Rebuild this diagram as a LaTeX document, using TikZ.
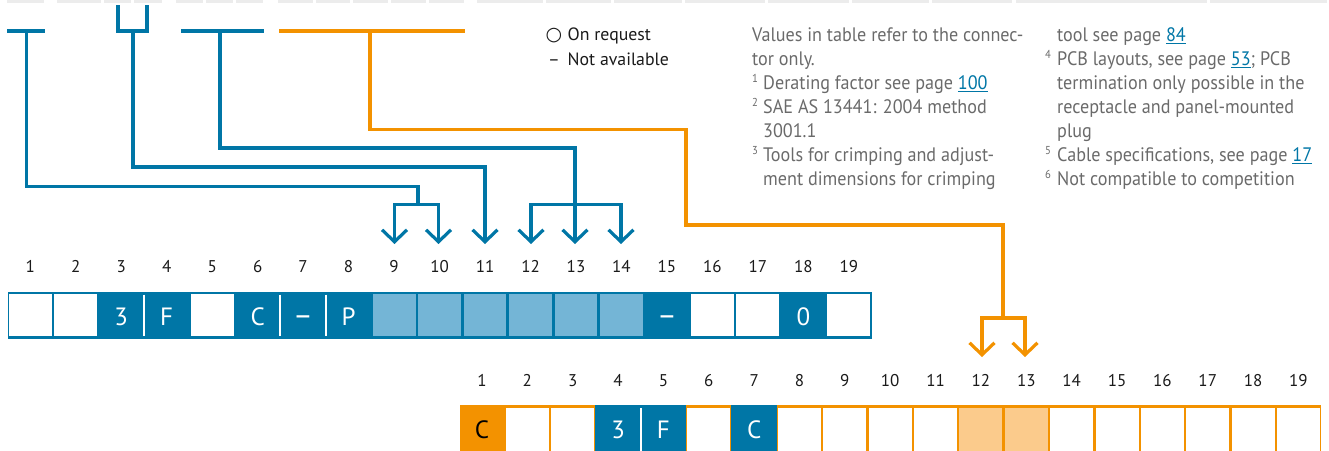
\documentclass[tikz,border=0pt]{standalone}
\usepackage{fontspec}
\setmainfont{PT Sans}
\newfontfamily\fnfont{PT Sans}[FakeStretch=0.93]
\newfontfamily\symfont{DejaVu Sans}
\usetikzlibrary{arrows.meta}
\definecolor{hblue}{HTML}{0076A6}
\definecolor{lblue}{HTML}{74B5D6}
\definecolor{horange}{HTML}{F39200}
\definecolor{lorange}{HTML}{FBCB8C}
\definecolor{barg}{HTML}{ECECEC}
\definecolor{fngray}{HTML}{6A6A6A}
\definecolor{txtblack}{HTML}{1A1A1A}
\newcommand\lnk[1]{\textcolor{hblue}{\underline{#1}}}
\newcommand\bigdash{{\fontsize{30}{30}\selectfont –}}
\begin{document}
\begin{tikzpicture}[x=1pt,y=-1pt,
  conn/.style={line width=3.2pt, line join=miter},
  bconn/.style={conn, draw=hblue},
  oconn/.style={conn, draw=horange},
  tipend/.style={-{Straight Barb[length=12pt,width=25pt]}},
  tipboth/.style={{Straight Barb[length=12pt,width=25pt]}-{Straight Barb[length=12pt,width=25pt]}},
  fn/.style={anchor=base west, inner sep=0, text=fngray, font=\fnfont\fontsize{19.5}{24}\selectfont},
  fnsup/.style={anchor=base west, inner sep=0, text=fngray, font=\fnfont\fontsize{11.5}{12}\selectfont},
  leg/.style={anchor=base west, inner sep=0, text=txtblack, font=\fontsize{17.8}{20}\selectfont},
  numlbl/.style={anchor=base, inner sep=0, text=txtblack, font=\fontsize{17}{20}\selectfont},
  cellbase/.style={inner sep=0, font=\fontsize{25}{25}\selectfont, text height=17.5pt, text depth=0pt},
  wcell/.style={cellbase, fill=white, minimum width=42.9pt, minimum height=42.1pt},
  lcell/.style={cellbase, fill=lblue, minimum width=42.9pt, minimum height=42.1pt},
  dcell/.style={cellbase, text=white},
  wcellb/.style={cellbase, fill=white, minimum width=43pt, minimum height=48pt},
  locell/.style={cellbase, fill=lorange, minimum width=43pt, minimum height=48pt},
  bcellb/.style={cellbase, fill=hblue, text=white, minimum width=45.9pt, minimum height=50pt},
  ocellb/.style={cellbase, text=black},
  divider/.style={draw=white, line width=2pt},
  strip/.style={inner sep=0, anchor=north west}
]
\useasboundingbox (0,0) rectangle (1329,450);
\clip (0,0) rectangle (1329,450);

% top grey bars
\foreach \a/\b [count=\k] in {7/44,57/101,104/131,134/162,176/203,206/233,236/263,278/313,316/350,353/388,391/426,429/464,477/543,546/611,614/682,685/765,768/849,852/929,932/1012,1016/1207,1210/1327}
  \fill[barg] (\a,0) rectangle (\b,3);

% legend
\node[anchor=base west, inner sep=0, text=txtblack, font=\symfont\fontsize{19}{20}\selectfont] (sym1) at (545.5,40.5) {○};
\node[leg] (leg1) at (567.5,40) {On request};
\node[leg] (sym2) at (548,65) {–};
\node[leg] (leg2) at (567.5,65) {Not available};

% footnotes block 1
\node[fn] (f1) at (752,41.7) {Values in table refer to the connec-};
\node[fn] (f2) at (752,65.7) {tor only.};
\node[fnsup] (s1) at (752,82.5) {1};
\node[fn] (f3) at (763,89.7) {Derating factor see page \lnk{100}};
\node[fnsup] (s2) at (752,106.5) {2};
\node[fn] (f4) at (763,113.7) {SAE AS 13441: 2004 method};
\node[fn] (f5) at (763,137.7) {3001.1};
\node[fnsup] (s3) at (752,154.5) {3};
\node[fn] (f6) at (763,161.7) {Tools for crimping and adjust-};
\node[fn] (f7) at (763,185.7) {ment dimensions for crimping};
% footnotes block 2
\node[fn] (g1) at (1057,41.7) {tool see page \lnk{84}};
\node[fnsup] (s4) at (1045,58.5) {4};
\node[fn] (g2) at (1057,65.7) {PCB layouts, see page \lnk{53}; PCB};
\node[fn] (g3) at (1057,89.7) {termination only possible in the};
\node[fn] (g4) at (1057,113.7) {receptacle and panel-mounted};
\node[fn] (g5) at (1057,137.7) {plug};
\node[fnsup] (s5) at (1045,154.5) {5};
\node[fn] (g6) at (1057,161.7) {Cable specifications, see page \lnk{17}};
\node[fnsup] (s6) at (1045,178.5) {6};
\node[fn] (g7) at (1057,185.7) {Not compatible to competition};

% row 1 numbers and cells
\foreach \i in {1,...,19}
  \node[numlbl] (n\i) at ({7.5+45.48*(\i-0.5)},272) {\i};
\node[strip, fill=hblue, minimum width=864.2pt, minimum height=47.5pt] (strip1) at (7.5,291.5) {};
\foreach \i in {1,2,5,16,17,19}
  \node[wcell] (r1c\i) at ({7.5+45.48*(\i-0.5)},315.25) {};
\foreach \i in {9,...,14}
  \node[lcell] (r1c\i) at ({7.5+45.48*(\i-0.5)},315.25) {};
\foreach \i/\t in {3/3,4/F,6/C,7/\bigdash,8/P,15/\bigdash,18/0}
  \node[dcell] (r1c\i) at ({7.5+45.48*(\i-0.5)},316.5) {\t};
\foreach \i in {3,6,7}
  \draw[divider] ({7.5+45.48*\i},294.5) -- ({7.5+45.48*\i},336);

% row 2 numbers and cells
\foreach \i in {1,...,19}
  \node[numlbl] (m\i) at ({459.3+45.36*(\i-0.5)},386.5) {\i};
\node[strip, fill=horange, minimum width=861.8pt, minimum height=50pt] (strip2) at (459.3,405) {};
\foreach \i in {2,3,6,8,9,10,11,14,15,16,17,18,19}
  \node[wcellb] (r2c\i) at ({459.3+45.36*(\i-0.5)},431.7) {};
\foreach \i in {12,13}
  \node[locell] (r2c\i) at ({459.3+45.36*(\i-0.5)},431.7) {};
\node[ocellb] (r2c1) at ({459.3+45.36*0.5},430) {C};
\foreach \i/\t in {4/3,5/F,7/C}
  \node[bcellb] (r2c\i) at ({459.3+45.36*(\i-0.5)},430) {\t};
\draw[divider] ({459.3+45.36*4},408) -- ({459.3+45.36*4},452);

% connector coordinates
\coordinate (t1l) at (7,31);   \coordinate (t1r) at (45,31);  \coordinate (t1m) at (26.5,31);
\coordinate (y1a) at (118,5);  \coordinate (y1b) at (118,31); \coordinate (y2b) at (147,31); \coordinate (y2a) at (147,5);
\coordinate (t2m) at (133,31);
\coordinate (t3l) at (181,31); \coordinate (t3r) at (264,31); \coordinate (t3m) at (220,31);
\coordinate (t4l) at (279,31); \coordinate (t4r) at (465,31); \coordinate (t4m) at (370,31);
\coordinate (c1) at (418,186.5); \coordinate (j1) at (418,204.5);
\coordinate (b9) at (394.5,204.5);  \coordinate (b10) at (438.5,204.5);
\coordinate (tip9) at (394.5,244);  \coordinate (tip10) at (438.5,244);
\coordinate (c2) at (485,167);      \coordinate (tip11) at (485,244);
\coordinate (c3) at (575,148);      \coordinate (tip13) at (575,244);
\coordinate (b12) at (531,204.5);   \coordinate (b14) at (621,204.5);
\coordinate (tip12) at (531,244);   \coordinate (tip14) at (621,244);
\coordinate (oc1) at (686,129.5);   \coordinate (oc2) at (1003,225); \coordinate (oj) at (1003,318);
\coordinate (ob12) at (982,318);    \coordinate (ob13) at (1025,318);
\coordinate (otip12) at (982,357);  \coordinate (otip13) at (1025,357);

% blue connectors
\draw[bconn] (t1l) -- (t1r);
\draw[bconn] (t1m) |- (c1) -- (j1);
\draw[bconn, tipboth] (tip9) -- (b9) -- (b10) -- (tip10);
\draw[bconn] (y1a) -- (y1b) -- (y2b) -- (y2a);
\draw[bconn, tipend] (t2m) |- (c2) -- (tip11);
\draw[bconn] (t3l) -- (t3r);
\draw[bconn, tipend] (t3m) |- (c3) -- (tip13);
\draw[bconn, tipboth] (tip12) -- (b12) -- (b14) -- (tip14);

% orange connector
\draw[oconn] (t4l) -- (t4r);
\draw[oconn] (t4m) |- (oc1) |- (oc2) -- (oj);
\draw[oconn, tipboth] (otip12) -- (ob12) -- (ob13) -- (otip13);
\end{tikzpicture}
\end{document}
